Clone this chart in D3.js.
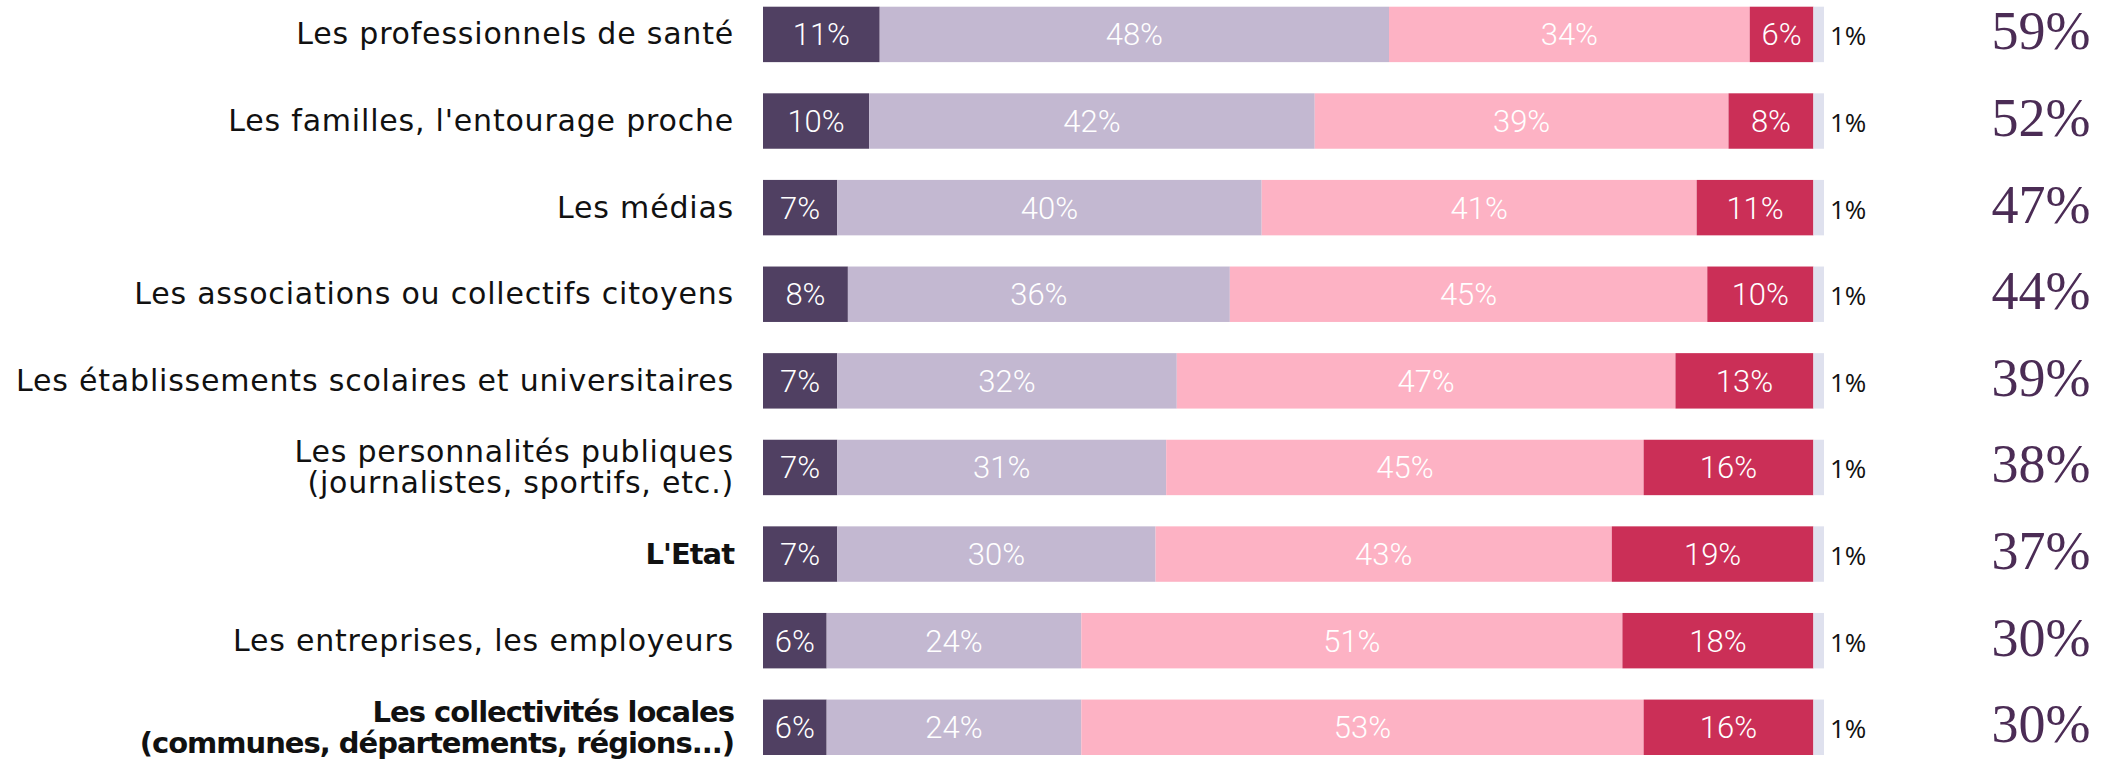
<!DOCTYPE html>
<html>
<head>
<meta charset="utf-8">
<script src="https://cdn.jsdelivr.net/npm/d3@7"></script>
<style>
  html, body { margin: 0; padding: 0; background: #ffffff; }
  svg { display: block; }
</style>
</head>
<body>
<div id="chart"></div>
<script>
// ---- data ----
const categories = [
  "Les professionnels de santé",
  "Les familles, l'entourage proche",
  "Les médias",
  "Les associations ou collectifs citoyens",
  "Les établissements scolaires et universitaires",
  "Les personnalités publiques\n(journalistes, sportifs, etc.)",
  "L'Etat",
  "Les entreprises, les employeurs",
  "Les collectivités locales\n(communes, départements, régions...)"
];
const boldRows = [false, false, false, false, false, false, true, false, true];
const seriesNames = ["Tout à fait", "Plutôt", "Plutôt pas", "Pas du tout", "NSP"];
const s1 = [11, 10, 7, 8, 7, 7, 7, 6, 6];
const s2 = [48, 42, 40, 36, 32, 31, 30, 24, 24];
const s3 = [34, 39, 41, 45, 47, 45, 43, 51, 53];
const s4 = [6, 8, 11, 10, 13, 16, 19, 18, 16];
const s5 = [1, 1, 1, 1, 1, 1, 1, 1, 1];
const totals = [59, 52, 47, 44, 39, 38, 37, 30, 30];

const colors = ["#504062", "#c3b8d1", "#fdb2c4", "#cb2f57", "#dfe1ee"];

// ---- layout ----
const W = 2108, H = 764;
const svg = d3.select("#chart").append("svg").attr("width", W).attr("height", H);

const rows = categories.map((c, i) => ({
  cat: c, i, bold: boldRows[i],
  vals: [s1[i], s2[i], s3[i], s4[i], s5[i]], total: totals[i]
}));

const x = d3.scaleLinear().domain([0, 100]).range([763, 1824]);
const y = d3.scaleBand().domain(d3.range(categories.length)).range([6.7, 755]).paddingInner(0.36).paddingOuter(0);

const stack = d3.stack().keys([0, 1, 2, 3, 4]).value((d, k) => d.vals[k]);
const stacked = stack(rows);

const g = svg.append("g");
stacked.forEach((layer, k) => {
  g.append("g").selectAll("rect").data(layer).join("rect")
    .attr("x", d => x(d[0]))
    .attr("y", (d, i) => y(i))
    .attr("width", d => x(d[1]) - x(d[0]))
    .attr("height", y.bandwidth())
    .attr("fill", colors[k]);
  if (k < 4) {
    g.append("g").selectAll("text").data(layer).join("text")
      .attr("x", d => (x(d[0]) + x(d[1])) / 2)
      .attr("y", (d, i) => y(i) + y.bandwidth() / 2 + 11)
      .attr("text-anchor", "middle")
      .attr("fill", "#ffffff")
      .style("font-family", "Roboto, 'Open Sans', sans-serif")
      .style("font-weight", 300)
      .style("font-size", "31px")
      .text(d => (d[1] - d[0]) + "%");
  } else {
    g.append("g").selectAll("text").data(layer).join("text")
      .attr("x", d => x(d[1]) + 6)
      .attr("y", (d, i) => y(i) + y.bandwidth() / 2 + 11)
      .attr("text-anchor", "start")
      .attr("fill", "#111111")
      .style("font-family", "'Open Sans', sans-serif")
      .style("font-size", "26px")
      .text(d => (d[1] - d[0]) + "%");
  }
});

// category labels
const lab = svg.append("g");
rows.forEach(r => {
  const lines = r.cat.split("\n");
  const cy = y(r.i) + y.bandwidth() / 2;
  const startY = lines.length === 1 ? cy + 10 : cy - 5;
  lines.forEach((ln, j) => {
    lab.append("text")
      .attr("x", 734)
      .attr("y", startY + j * 31)
      .attr("text-anchor", "end")
      .attr("fill", "#111111")
      .style("font-family", "'DejaVu Sans', sans-serif")
      .style("font-size", r.bold ? "29px" : "30px")
      .style("letter-spacing", r.bold ? "-1px" : "0.8px")
      .style("font-weight", r.bold ? 700 : 400)
      .text(ln);
  });
});

// totals
svg.append("g").selectAll("text").data(rows).join("text")
  .attr("x", 2041)
  .attr("y", d => y(d.i) + y.bandwidth() / 2 + 15)
  .attr("text-anchor", "middle")
  .attr("fill", "#4b2c55")
  .style("font-family", "'Liberation Serif', 'DejaVu Serif', serif")
  .style("font-size", "54px")
  .text(d => d.total + "%");
</script>
</body>
</html>
